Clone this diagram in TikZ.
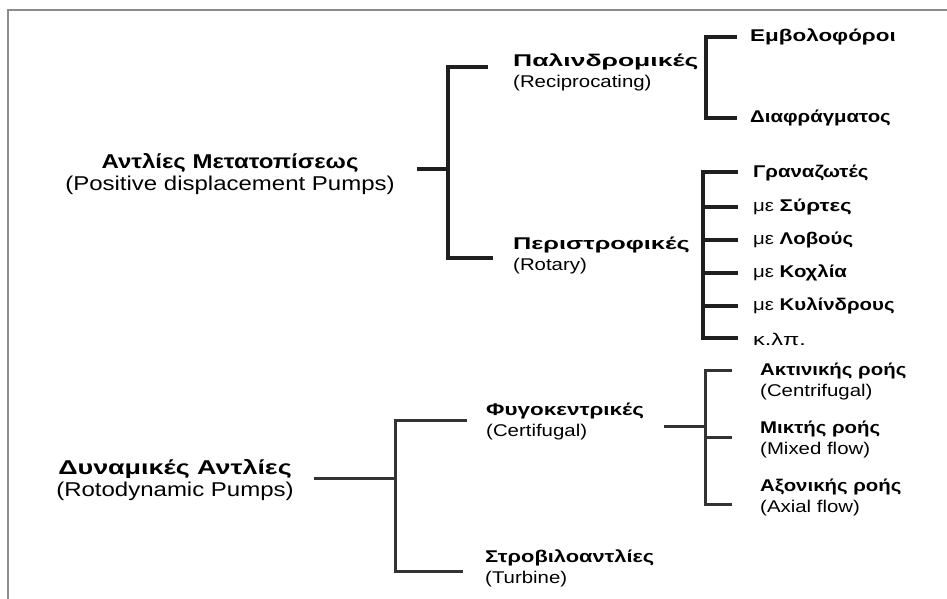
\documentclass[tikz,border=0pt]{standalone}
\usepackage{fontspec}
\usepackage{graphicx}
\setmainfont[FakeStretch=1.2]{Liberation Sans}
\newcommand\gkw[2]{\scalebox{#1}[1]{\textbf{#2}}}
\begin{document}
\begin{tikzpicture}[x=1pt,y=-1pt,
  toplbl/.style={align=center, font=\fontsize{20}{22}\selectfont, inner sep=0pt},
  midlbl/.style={align=left, anchor=west, font=\fontsize{17}{21}\selectfont, inner sep=0pt},
  leaflbl/.style={anchor=west, font=\fontsize{17}{20}\selectfont, inner sep=0pt},
  leaftwo/.style={align=left, anchor=west, font=\fontsize{17}{21}\selectfont, inner sep=0pt},
  br/.style={line width=3.1pt, color=black!88, line join=miter},
  brthin/.style={line width=3pt, color=black!80, line join=miter},
  frame/.style={line width=1.6pt, color=black!45}]
\useasboundingbox (0,0) rectangle (947,599);
\fill[white] (0,0) rectangle (947,599);
\draw[frame] (8,599) -- (8,10) -- (947,10);

% labels
\node[toplbl] (pd) at (230,174) {\textbf{Αντλίες Μετατοπίσεως}\\(Positive displacement Pumps)};
\node[toplbl] (rd) at (175,480) {\gkw{1.12}{Δυναμικές Αντλίες}\\(Rotodynamic Pumps)};
\node[midlbl] (pal) at (513,72) {\gkw{1.3}{Παλινδρομικές}\\(Reciprocating)};
\node[midlbl] (rot) at (513,256) {\gkw{1.24}{Περιστροφικές}\\(Rotary)};
\node[midlbl] (fyg) at (486,422) {\gkw{1.1}{Φυγοκεντρικές}\\(Certifugal)};
\node[midlbl] (strb) at (485,568) {\gkw{1.07}{Στροβιλοαντλίες}\\(Turbine)};

\node[leaflbl] (emv) at (750,37) {\gkw{1.1}{Εμβολοφόροι}};
\node[leaflbl] (dia) at (750,118) {\textbf{Διαφράγματος}};

\node[leaflbl] (gra) at (753,173) {\textbf{Γραναζωτές}};
\node[leaflbl] (syr) at (753,207) {με \gkw{1.1}{Σύρτες}};
\node[leaflbl] (lob) at (753,240) {με \textbf{Λοβούς}};
\node[leaflbl] (kox) at (753,273) {με \textbf{Κοχλία}};
\node[leaflbl] (kyl) at (753,306) {με \textbf{Κυλίνδρους}};
\node[leaflbl] (klp) at (753,339) {\scalebox{1.15}[1]{κ.λπ.}};

\node[leaftwo] (akt) at (760,382) {\textbf{Ακτινικής ροής}\\(Centrifugal)};
\node[leaftwo] (mik) at (760,439) {\textbf{Μικτής ροής}\\(Mixed flow)};
\node[leaftwo] (axo) at (760,497) {\textbf{Αξονικής ροής}\\(Axial flow)};

% bracket 1
\coordinate (a1) at (448,169);
\coordinate (a1t) at (448,67);
\coordinate (a1b) at (448,258);
\draw[br, shorten <=22pt] (pd.east |- a1) -- (a1);
\draw[br, shorten <=25pt, shorten >=20pt] (pal.west |- a1t) -- (a1t) -- (a1b) -- (rot.west |- a1b);

% bracket 2
\coordinate (b2) at (706,73);
\coordinate (b2t) at (706,37);
\coordinate (b2b) at (706,118);
\draw[br, shorten <=7pt] (pal.east |- b2) -- (b2);
\draw[br, shorten <=13pt, shorten >=13pt] (emv.west |- b2t) -- (b2t) -- (b2b) -- (dia.west |- b2b);

% bracket 3
\coordinate (b3) at (703,257);
\coordinate (b3t) at (703,172);
\coordinate (b3b) at (703,338);
\draw[br, shorten <=11pt] (rot.east |- b3) -- (b3);
\draw[br, shorten <=15pt, shorten >=15pt] (gra.west |- b3t) -- (b3t) -- (b3b) -- (klp.west |- b3b);
\draw[br, shorten >=15pt] (b3 |- syr) -- (syr.west);
\draw[br, shorten >=15pt] (b3 |- lob) -- (lob.west);
\draw[br, shorten >=15pt] (b3 |- kox) -- (kox.west);
\draw[br, shorten >=15pt] (b3 |- kyl) -- (kyl.west);

% bracket 4
\coordinate (c4) at (395,478);
\coordinate (c4t) at (395,420);
\coordinate (c4b) at (395,571);
\draw[brthin, shorten <=20pt] (rd.east |- c4) -- (c4);
\draw[brthin, shorten <=19pt, shorten >=22pt] (fyg.west |- c4t) -- (c4t) -- (c4b) -- (strb.west |- c4b);

% bracket 5
\coordinate (c5) at (705,426);
\coordinate (c5t) at (705,370);
\coordinate (c5m) at (705,437);
\coordinate (c5b) at (705,504);
\draw[brthin, shorten <=20pt] (fyg.east |- c5) -- (c5);
\draw[brthin, shorten <=28pt, shorten >=28pt] (akt.west |- c5t) -- (c5t) -- (c5b) -- (axo.west |- c5b);
\draw[brthin, shorten >=28pt] (c5m) -- (mik.west |- c5m);
\end{tikzpicture}
\end{document}
